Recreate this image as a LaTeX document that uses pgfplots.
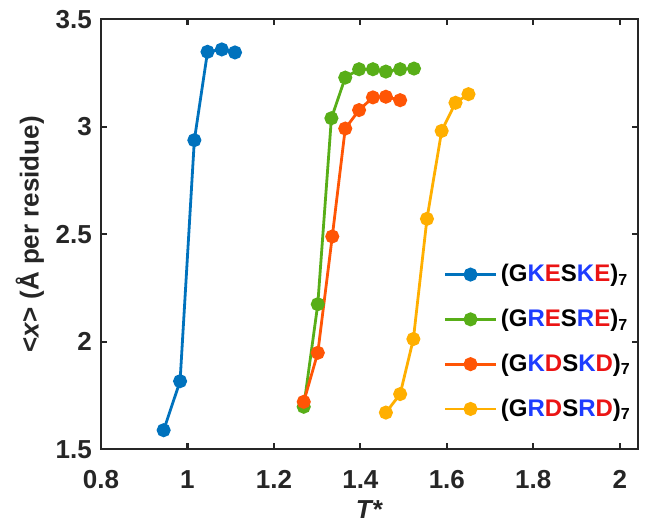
\documentclass[border=0pt]{standalone}
\usepackage{fontspec}
\setmainfont{Liberation Sans}
\usepackage{pgfplots}
\pgfplotsset{compat=1.18}
\definecolor{cblue}{RGB}{0,114,189}
\definecolor{cgreen}{RGB}{88,174,24}
\definecolor{corange}{RGB}{255,85,5}
\definecolor{cyellow}{RGB}{255,175,0}
\definecolor{lblue}{RGB}{30,60,255}
\definecolor{lred}{RGB}{235,20,20}
\definecolor{axgray}{RGB}{38,38,38}
\begin{document}
\begin{tikzpicture}
\begin{axis}[
  scale only axis,
  width=268.5pt, height=215pt,
  xmin=0.8, xmax=2.042, ymin=1.5, ymax=3.5,
  xtick={0.8,1,1.2,1.4,1.6,1.8,2},
  ytick={1.5,2,2.5,3,3.5},
  tick pos=both, tick align=inside,
  major tick length=3pt,
  axis line style={axgray, line width=1.1pt},
  every tick/.style={axgray, line width=1.1pt},
  /pgf/number format/assume math mode=true,
  tick label style={font=\bfseries\fontsize{13}{15}\selectfont, text=axgray},
  xticklabel style={yshift=-7pt},
  yticklabel style={xshift=-1pt},
  xlabel={\textit{T*}},
  ylabel={<\textit{x}> (Å per residue)},
  label style={font=\bfseries\fontsize{13}{15}\selectfont, text=axgray},
  xlabel style={yshift=1pt},
  ylabel style={yshift=-1pt},
  legend style={at={(0.995,0.06)}, anchor=south east, draw=none, fill=none,
    font=\bfseries\fontsize{12}{14}\selectfont, row sep=8.2pt,
    inner sep=0pt},
  legend cell align=left,
  legend image code/.code={\draw[mark repeat=2,mark phase=2] plot coordinates {(0cm,0cm) (0.44cm,0cm) (0.88cm,0cm)};},
  every axis plot/.append style={line width=1.4pt, mark=*, mark size=2.8pt},
]
\addplot[cblue, mark options={fill=cblue}] coordinates {
(0.945,1.589) (0.983,1.817) (1.016,2.938) (1.0465,3.349) (1.0795,3.360) (1.110,3.346)};
\addlegendentry{(G\textcolor{lblue}{K}\textcolor{lred}{E}S\textcolor{lblue}{K}\textcolor{lred}{E})\textsubscript{7}}
\addplot[cgreen, mark options={fill=cgreen}] coordinates {
(1.269,1.698) (1.3015,2.175) (1.333,3.040) (1.365,3.229) (1.397,3.268) (1.429,3.268) (1.459,3.257) (1.492,3.268) (1.524,3.271)};
\addlegendentry{(G\textcolor{lblue}{R}\textcolor{lred}{E}S\textcolor{lblue}{R}\textcolor{lred}{E})\textsubscript{7}}
\addplot[corange, mark options={fill=corange}] coordinates {
(1.269,1.721) (1.3015,1.949) (1.335,2.490) (1.365,2.992) (1.397,3.078) (1.429,3.137) (1.459,3.140) (1.492,3.124)};
\addlegendentry{(G\textcolor{lblue}{K}\textcolor{lred}{D}S\textcolor{lblue}{K}\textcolor{lred}{D})\textsubscript{7}}
\addplot[cyellow, mark options={fill=cyellow}] coordinates {
(1.459,1.671) (1.492,1.757) (1.5226,2.013) (1.554,2.572) (1.588,2.981) (1.620,3.112) (1.650,3.152)};
\addlegendentry{(G\textcolor{lblue}{R}\textcolor{lred}{D}S\textcolor{lblue}{R}\textcolor{lred}{D})\textsubscript{7}}
\coordinate (bbsw) at (rel axis cs:-0.188,-0.176);
\coordinate (bbne) at (rel axis cs:1.015,1.045);
\end{axis}
\pgfresetboundingbox
\path[use as bounding box] (bbsw) rectangle (bbne);
\end{tikzpicture}
\end{document}
